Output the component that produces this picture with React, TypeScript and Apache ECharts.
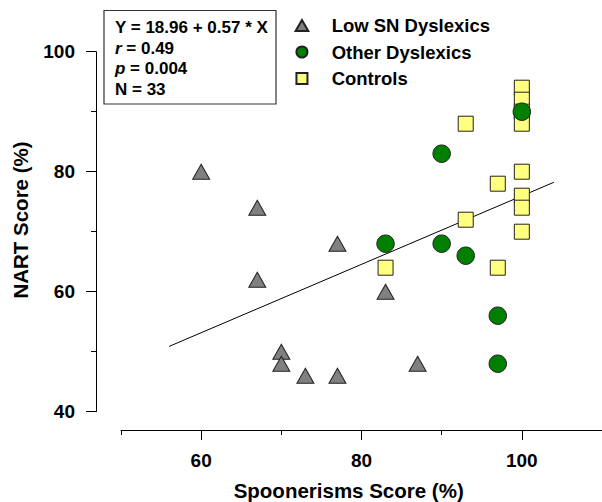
import React, { useEffect, useRef } from "react";
import * as echarts from "echarts";

// ---- data ----
const lowSN: [number, number][] = [
  [60, 80], [67, 74], [67, 62], [77, 68], [70, 50],
  [70, 48], [73, 46], [77, 46], [83, 60], [87, 48],
];
const otherDyslexics: [number, number][] = [
  [83, 68], [90, 83], [90, 68], [93, 66], [97, 56], [97, 48], [100, 90],
];
const controls: [number, number][] = [
  [83, 64], [93, 88], [93, 72], [97, 78], [97, 64],
  [100, 94], [100, 92], [100, 90], [100, 88], [100, 80],
  [100, 76], [100, 74], [100, 70],
];
const fitLine: [number, number][] = [[56, 50.88], [104, 78.24]];
const xMajorTicks = [60, 80, 100];
const xMinorTicks = [50, 70, 90, 110];
const seriesNames = ["Low SN Dyslexics", "Other Dyslexics", "Controls"];
const statLines = ["Y = 18.96 + 0.57 * X", "r = 0.49", "p = 0.004", "N = 33"];
const xName = "Spoonerisms Score (%)";
const yName = "NART Score (%)";

const FONT = "'Liberation Sans', Arial, Helvetica, sans-serif";

export default function App() {
  const ref = useRef<HTMLDivElement>(null);
  useEffect(() => {
    document.body.style.margin = "0";
    if (!ref.current) return;
    const chart = echarts.init(ref.current, undefined, { renderer: "svg" });
    const border = "#222";
    const boldTxt = (size: number) => ({
      fontFamily: FONT, fontWeight: "bold" as const, fontSize: size, color: "#000",
    });
    const statBaselines = [27.3, 48.1, 68.9, 89.7];
    const statTexts = statLines.map((s, i) => {
      const m = s.match(/^([rp])( = .*)$/);
      const text = m ? `{i|${m[1]}}{n|${m[2]}}` : `{n|${s}}`;
      return {
        type: "text",
        x: 115,
        y: statBaselines[i],
        z: 101,
        style: {
          text,
          textAlign: "left", align: "left",
          textVerticalAlign: "middle", verticalAlign: "middle",
          fontFamily: FONT, fontWeight: "bold", fontSize: 17, fill: "#000",
          rich: {
            i: { fontFamily: FONT, fontWeight: "bold", fontStyle: "italic", fontSize: 17, color: "#000" },
            n: { fontFamily: FONT, fontWeight: "bold", fontSize: 17, color: "#000" },
          },
        },
      };
    });

    chart.setOption({
      animation: false,
      backgroundColor: "#fff",
      grid: { left: 121, right: -3, top: 51.7, bottom: 90.3, containLabel: false },
      xAxis: [
        {
          type: "value", min: 50, max: 110, position: "bottom", offset: 18.3,
          axisLine: { show: true, lineStyle: { color: "#000", width: 1 } },
          axisTick: { show: true, customValues: xMajorTicks, length: 10, lineStyle: { color: "#000", width: 1 } },
          axisLabel: { show: true, customValues: xMajorTicks, margin: 21, ...boldTxt(19) },
          splitLine: { show: false },
        },
        {
          type: "value", min: 50, max: 110, position: "bottom", offset: 18.3,
          axisLine: { show: false },
          axisTick: { show: true, customValues: xMinorTicks, length: 5, lineStyle: { color: "#000", width: 1 } },
          axisLabel: { show: false },
          splitLine: { show: false },
        },
      ],
      yAxis: {
        type: "value", min: 40, max: 100, interval: 20, position: "left", offset: 25,
        axisLine: { show: true, lineStyle: { color: "#000", width: 1 } },
        axisTick: { show: true, length: 10, lineStyle: { color: "#000", width: 1 } },
        minorTick: { show: true, splitNumber: 2, length: 5, lineStyle: { color: "#000", width: 1 } },
        axisLabel: { margin: 21, ...boldTxt(19) },
        splitLine: { show: false },
        minorSplitLine: { show: false },
      },
      legend: {
        orient: "vertical",
        left: 294.6,
        top: 15.5,
        padding: 0,
        itemWidth: 49.4,
        itemHeight: 11,
        itemGap: 6.5,
        symbolKeepAspect: true,
        textStyle: { ...boldTxt(18.5), lineHeight: 20 },
        data: [
          { name: seriesNames[0], icon: "path://M6,0L12,10.4L0,10.4Z" },
          { name: seriesNames[1], icon: "circle" },
          { name: seriesNames[2], icon: "path://M0,0L10,0L10,10L0,10Z" },
        ],
      },
      graphic: [
        {
          type: "rect", z: 100,
          shape: { x: 104, y: 10.5, width: 172, height: 93.5 },
          style: { fill: "#fff", stroke: "#333", lineWidth: 1.2 },
        },
        ...statTexts,
        {
          type: "text", x: 348.7, y: 490, z: 100,
          style: {
            text: xName, textAlign: "center", align: "center",
            textVerticalAlign: "middle", verticalAlign: "middle",
            fontFamily: FONT, fontWeight: "bold", fontSize: 20.5, fill: "#000",
          },
        },
        {
          type: "text", x: 20, y: 220, z: 100, rotation: Math.PI / 2,
          style: {
            text: yName, textAlign: "center", align: "center",
            textVerticalAlign: "middle", verticalAlign: "middle",
            fontFamily: FONT, fontWeight: "bold", fontSize: 20.5, fill: "#000",
          },
        },
      ],
      series: [
        {
          type: "line", data: fitLine, xAxisIndex: 0, symbol: "none", silent: true,
          lineStyle: { color: "#000", width: 1 }, z: 1,
        },
        {
          name: seriesNames[0], type: "scatter", data: lowSN, xAxisIndex: 0,
          symbol: "triangle", symbolSize: [17, 15], z: 2,
          itemStyle: { color: "#808080", borderColor: border, borderWidth: 1, opacity: 1 },
        },
        {
          name: seriesNames[2], type: "scatter", data: controls, xAxisIndex: 0,
          symbol: "rect", symbolSize: 15, z: 3,
          itemStyle: { color: "#FFFF80", borderColor: border, borderWidth: 1, opacity: 1 },
        },
        {
          name: seriesNames[1], type: "scatter", data: otherDyslexics, xAxisIndex: 0,
          symbol: "circle", symbolSize: 17.5, z: 4,
          itemStyle: { color: "#007F00", borderColor: border, borderWidth: 1, opacity: 1 },
        },
      ],
    });
    return () => chart.dispose();
  }, []);
  return <div ref={ref} style={{ width: 602, height: 502 }} />;
}
